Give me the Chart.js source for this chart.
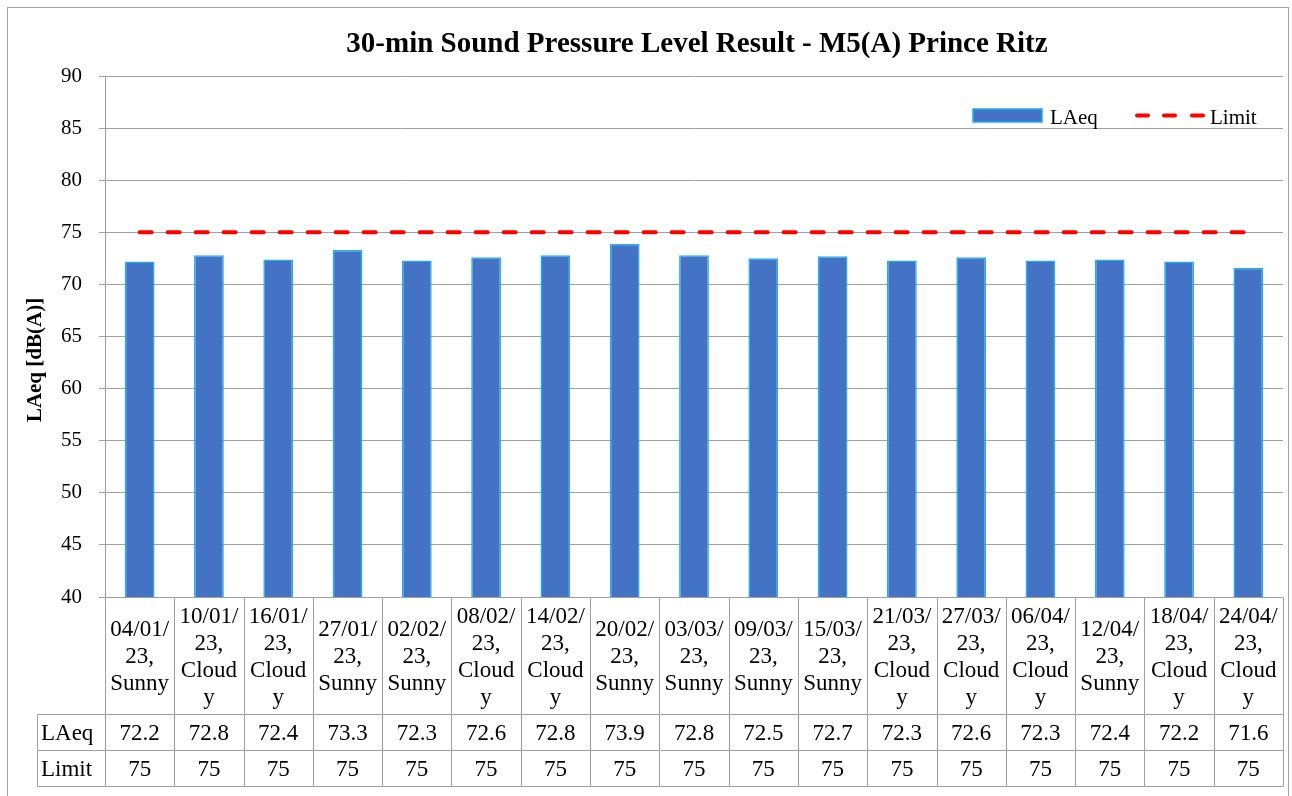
<!DOCTYPE html>
<html>
<head>
<meta charset="utf-8">
<script src="https://cdn.jsdelivr.net/npm/chart.js@4.4.1/dist/chart.umd.min.js"></script>
<style>
html,body{margin:0;padding:0;background:#fff;}
canvas{display:block;}
</style>
</head>
<body>
<canvas id="c" width="1292" height="796"></canvas>
<script>
const categories = [
  ["04/01/","23,","Sunny"],
  ["10/01/","23,","Cloud","y"],
  ["16/01/","23,","Cloud","y"],
  ["27/01/","23,","Sunny"],
  ["02/02/","23,","Sunny"],
  ["08/02/","23,","Cloud","y"],
  ["14/02/","23,","Cloud","y"],
  ["20/02/","23,","Sunny"],
  ["03/03/","23,","Sunny"],
  ["09/03/","23,","Sunny"],
  ["15/03/","23,","Sunny"],
  ["21/03/","23,","Cloud","y"],
  ["27/03/","23,","Cloud","y"],
  ["06/04/","23,","Cloud","y"],
  ["12/04/","23,","Sunny"],
  ["18/04/","23,","Cloud","y"],
  ["24/04/","23,","Cloud","y"]
];
const laeqValues = [72.2,72.8,72.4,73.3,72.3,72.6,72.8,73.9,72.8,72.5,72.7,72.3,72.6,72.3,72.4,72.2,71.6];
const limitValues = [75,75,75,75,75,75,75,75,75,75,75,75,75,75,75,75,75];
const yTicks = [40,45,50,55,60,65,70,75,80,85,90];
const titleText = "30-min Sound Pressure Level Result - M5(A) Prince Ritz";
const yTitleText = "LAeq [dB(A)]";
const seriesNames = ["LAeq","Limit"];

const SERIF = "'Liberation Serif','Times New Roman',serif";
const GRID = "#A0A0A0";
const BAR = "#4472C4";
const BAR_EDGE = "#1DB0EC";
const RED = "#FF0000";

const decor = {
  id: 'decor',
  afterDraw(chart) {
    const ctx = chart.ctx;
    const x = chart.scales.x;
    const area = chart.chartArea;
    ctx.save();
    // outer border
    ctx.strokeStyle = "#A6A6A6";
    ctx.lineWidth = 1;
    ctx.strokeRect(7.5, 7.5, 1281, 800);
    // title
    ctx.fillStyle = "#000";
    ctx.font = "bold 29px " + SERIF;
    ctx.textAlign = "center";
    ctx.textBaseline = "alphabetic";
    ctx.fillText(titleText, 697, 52);
    // y title
    ctx.save();
    ctx.translate(41, 360);
    ctx.rotate(-Math.PI/2);
    ctx.font = "bold 21px " + SERIF;
    ctx.textAlign = "center";
    ctx.textBaseline = "alphabetic";
    ctx.fillText(yTitleText, 0, 0);
    ctx.restore();
    // legend
    ctx.fillStyle = BAR;
    ctx.fillRect(973, 109, 69, 13);
    ctx.strokeStyle = BAR_EDGE;
    ctx.lineWidth = 1.5;
    ctx.strokeRect(973, 109, 69, 13);
    ctx.fillStyle = "#000";
    ctx.font = "21px " + SERIF;
    ctx.textAlign = "left";
    ctx.textBaseline = "alphabetic";
    ctx.fillText(seriesNames[0], 1050, 124);
    ctx.strokeStyle = RED;
    ctx.lineWidth = 4;
    ctx.lineCap = "round";
    [[1137,1148],[1164,1175],[1192,1203]].forEach(s => {
      ctx.beginPath(); ctx.moveTo(s[0], 115.5); ctx.lineTo(s[1], 115.5); ctx.stroke();
    });
    ctx.lineCap = "butt";
    ctx.fillText(seriesNames[1], 1210, 124);

    // data table
    const n = categories.length;
    const cw = (area.right - area.left) / n;
    const top = Math.round(area.bottom) + 0.5;
    const r1 = 714.5, r2 = 750.5, r3 = 786.5;
    const leftCol = 37.5;
    ctx.strokeStyle = GRID;
    ctx.lineWidth = 1;
    ctx.beginPath();
    for (let i = 0; i <= n; i++) {
      const px = Math.round(area.left + i * cw) + 0.5;
      ctx.moveTo(px, top); ctx.lineTo(px, r3);
    }
    ctx.moveTo(leftCol, r1); ctx.lineTo(leftCol, r3);
    [r1, r2, r3].forEach(ry => { ctx.moveTo(leftCol, ry); ctx.lineTo(Math.round(area.right) + 0.5, ry); });
    ctx.stroke();

    ctx.fillStyle = "#000";
    ctx.font = "23px " + SERIF;
    ctx.textAlign = "center";
    ctx.textBaseline = "middle";
    const lh = 27;
    for (let i = 0; i < n; i++) {
      const cx = x.getPixelForValue(i);
      const lines = categories[i];
      const mid = (top + r1) / 2 + 1;
      const start = mid - (lines.length - 1) * lh / 2;
      lines.forEach((t, k) => ctx.fillText(t, cx, start + k * lh));
      ctx.fillText(laeqValues[i].toFixed(1), cx, (r1 + r2) / 2 + 1);
      ctx.fillText(String(limitValues[i]), cx, (r2 + r3) / 2 + 1);
    }
    ctx.textAlign = "left";
    ctx.fillText(seriesNames[0], 41, (r1 + r2) / 2 + 1);
    ctx.fillText(seriesNames[1], 41, (r2 + r3) / 2 + 1);
    ctx.restore();
  }
};

new Chart(document.getElementById('c'), {
  data: {
    labels: categories,
    datasets: [
      {
        type: 'line',
        label: seriesNames[1],
        data: limitValues,
        borderColor: RED,
        borderWidth: 4,
        borderDash: [12, 16],
        borderCapStyle: 'round',
        pointRadius: 0,
        fill: false,
        order: 0
      },
      {
        type: 'bar',
        label: seriesNames[0],
        data: laeqValues,
        backgroundColor: BAR,
        borderColor: BAR_EDGE,
        borderWidth: 1.5,
        barPercentage: 0.43,
        categoryPercentage: 1.0,
        order: 1
      }
    ]
  },
  options: {
    responsive: false,
    animation: false,
    layout: { padding: { top: 76, bottom: 199, left: 0, right: 9 } },
    plugins: {
      legend: { display: false },
      title: { display: false },
      tooltip: { enabled: false }
    },
    scales: {
      x: { type: 'category', display: false, offset: true },
      y: {
        min: 40, max: 90,
        afterFit(s) { s.width = 105; },
        afterBuildTicks(s) { s.ticks = yTicks.map(v => ({ value: v })); },
        ticks: {
          color: "#000",
          padding: 17,
          font: { family: SERIF, size: 21 }
        },
        grid: { color: GRID, lineWidth: 1, tickLength: 6, drawTicks: true },
        border: { display: true, color: GRID, width: 1 }
      }
    }
  },
  plugins: [decor]
});
</script>
</body>
</html>
